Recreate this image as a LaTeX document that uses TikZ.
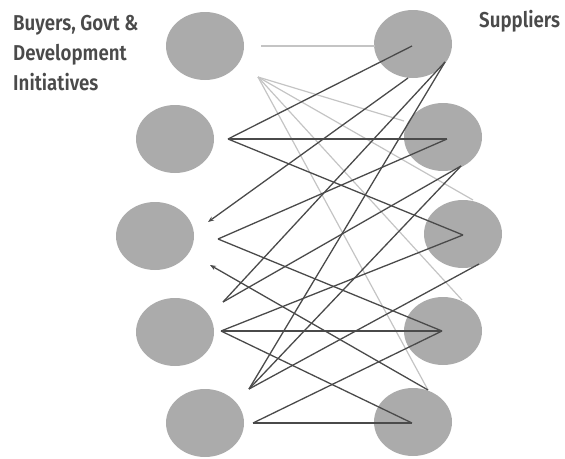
\documentclass[tikz,border=0pt]{standalone}
\usepackage{fontspec}
\setmainfont{Fira Sans}[FakeStretch=0.87, BoldFont={Fira Sans SemiBold}, BoldFeatures={FakeStretch=0.87}]
\usetikzlibrary{shapes.geometric,arrows.meta}
\definecolor{bubble}{HTML}{ABABAB}
\definecolor{darkline}{HTML}{4A4A4A}
\definecolor{lightline}{HTML}{C4C4C4}
\definecolor{labeltext}{HTML}{4A4A4A}
\tikzset{
  actor/.style={ellipse, fill=bubble, inner sep=0pt, minimum width=78pt, minimum height=68pt},
  tie/.style={draw=darkline, line width=1.3pt},
  weaktie/.style={draw=lightline, line width=1.2pt},
  flow/.style={tie, -{Stealth[length=6pt,width=4.5pt]}},
  caption/.style={anchor=base west, inner sep=0pt, text=labeltext, font=\fontsize{21.5}{25}\selectfont\bfseries}
}
\begin{document}
\begin{tikzpicture}[x=1pt,y=-1pt]
\useasboundingbox (0,0) rectangle (565,458);

% buyer-side actors
\node[actor] (L1) at (205,46) {};
\node[actor] (L2) at (175,139) {};
\node[actor] (L3) at (155,236) {};
\node[actor] (L4) at (175,332) {};
\node[actor] (L5) at (205,423) {};
% supplier-side actors
\node[actor] (R1) at (413,44) {};
\node[actor] (R2) at (443,137) {};
\node[actor] (R3) at (463,234) {};
\node[actor] (R4) at (443,331) {};
\node[actor] (R5) at (413,422) {};

% link ends on the buyer side
\coordinate (A) at (261,46);
\coordinate (B) at (258,77);
\coordinate (C) at (228,139);
\coordinate (D) at (208,222);
\coordinate (E) at (218,239);
\coordinate (F) at (210,265);
\coordinate (G) at (223,302);
\coordinate (H) at (221,331);
\coordinate (I) at (249,389);
\coordinate (J) at (253,423);
% link ends on the supplier side
\coordinate (P1) at (412,46);
\coordinate (P1e) at (408,78);
\coordinate (P1f) at (445,62);
\coordinate (P2) at (447,139);
\coordinate (P2f) at (461,166);
\coordinate (P3) at (463,235);
\coordinate (P3f) at (479,264);
\coordinate (P4) at (442,331);
\coordinate (P5t) at (428,390);
\coordinate (P5) at (412,423);
\coordinate (Q1) at (375,46);
\coordinate (Q2) at (404,121);
\coordinate (Q3) at (473,200);
\coordinate (Q4) at (462,300);

% faint links
\draw[weaktie] (A) -- (Q1);
\draw[weaktie] (B) -- (Q2);
\draw[weaktie] (B) -- (Q3);
\draw[weaktie] (B) -- (Q4);
\draw[weaktie] (B) -- (P5t);

% strong links
\draw[tie] (C) -- (P1);
\draw[tie] (C) -- (P2);
\draw[tie] (C) -- (P3);
\draw[flow] (P1e) -- (D);
\draw[tie] (E) -- (P2);
\draw[tie] (E) -- (P4);
\draw[flow] (P5t) -- (F);
\draw[tie] (H) -- (P4);
\draw[tie] (H) -- (P5);
\draw[tie] (H) -- (P3);
\draw[tie] (J) -- (P5);
\draw[tie] (J) -- (P4);
\draw[tie] (G) -- (P1f);
\draw[tie] (G) -- (P2f);
\draw[tie] (I) -- (P1f);
\draw[tie] (I) -- (P2f);
\draw[tie] (I) -- (P3f);

% headings
\node[caption] (buyers) at (13,30) {Buyers, Govt \&};
\node[caption] (devel) at (13,60) {Development};
\node[caption] (init) at (13,90) {Initiatives};
\node[caption] (suppliers) at (479,27) {Suppliers};
\end{tikzpicture}
\end{document}
